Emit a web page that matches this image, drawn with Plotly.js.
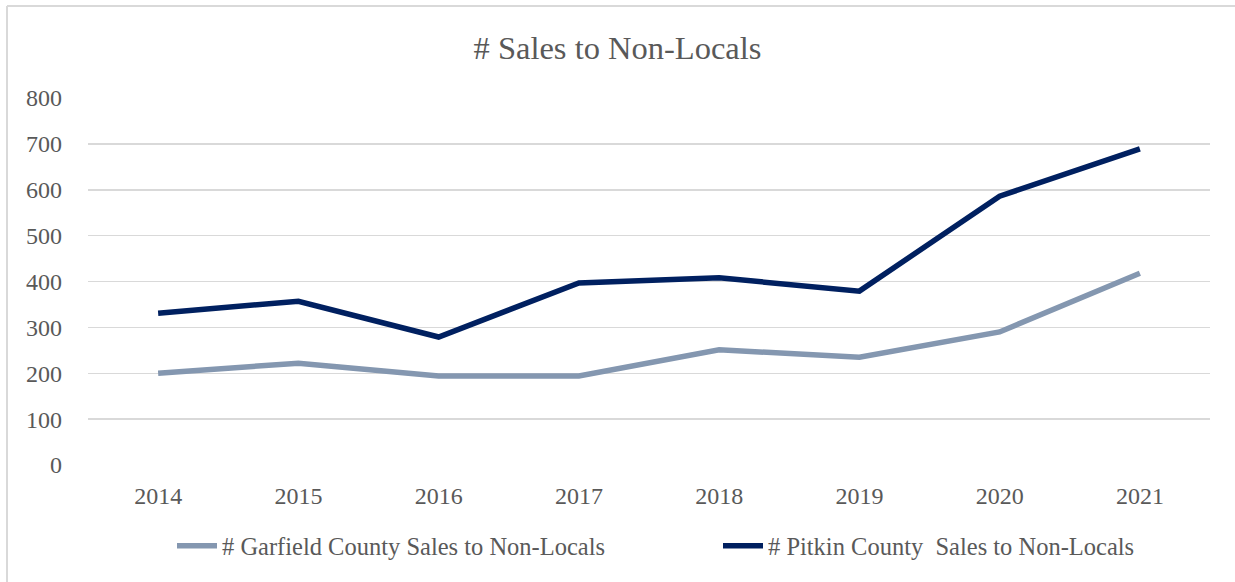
<!DOCTYPE html>
<html>
<head>
<meta charset="utf-8">
<script src="https://cdn.plot.ly/plotly-3.0.1.min.js"></script>
<style>
html,body{margin:0;padding:0;background:#fff;}
#chart{width:1235px;height:582px;}
</style>
</head>
<body>
<div id="chart"></div>
<script>
const years = ["2014","2015","2016","2017","2018","2019","2020","2021"];
const garfield = [200, 222, 194, 194, 251, 235, 290, 418];
const pitkin = [331, 357, 279, 397, 408, 379, 586, 689];
const seriesNames = ["# Garfield County Sales to Non-Locals", "# Pitkin County  Sales to Non-Locals"];
const chartTitle = "# Sales to Non-Locals";
const yTicks = [0,100,200,300,400,500,600,700,800];

const FONT = "Liberation Serif, Times New Roman, serif";
const GREY = "#595959";

const traces = [
  {x: years, y: garfield, type: "scatter", mode: "lines", name: seriesNames[0],
   line: {color: "#8497b0", width: 5.5}, legend: "legend"},
  {x: years, y: pitkin, type: "scatter", mode: "lines", name: seriesNames[1],
   line: {color: "#002060", width: 5.5}, legend: "legend2"}
];

const legendBase = {orientation: "h", xanchor: "left", y: -0.22, yanchor: "middle",
                    font: {size: 24.5, color: GREY}, itemwidth: 40, borderwidth: 0,
                    bgcolor: "rgba(0,0,0,0)"};

const layout = {
  width: 1235, height: 582,
  paper_bgcolor: "#ffffff", plot_bgcolor: "#ffffff",
  margin: {l: 88, r: 25, t: 98, b: 117},
  font: {family: FONT, color: GREY, size: 24},
  title: {text: chartTitle, font: {family: FONT, size: 32.5, color: GREY},
          x: 0.5, xanchor: "center", y: 1 - 48/582, yanchor: "middle"},
  xaxis: {type: "category", range: [-0.5, 7.5], showgrid: false, zeroline: false,
          showline: false, ticks: "", tickfont: {size: 24, color: GREY},
          ticklabelstandoff: 14, fixedrange: true},
  yaxis: {range: [0, 800], tickvals: yTicks, showgrid: true, gridcolor: "#d9d9d9", gridwidth: 1.5,
          zeroline: false, showline: false, ticks: "", ticklen: 0, tickfont: {size: 24, color: GREY},
          ticklabelstandoff: 25, fixedrange: true},
  showlegend: true,
  legend: Object.assign({}, legendBase, {x: (172-88)/1122}),
  legend2: Object.assign({}, legendBase, {x: (718-88)/1122}),
  shapes: [
    {type: "line", xref: "paper", yref: "paper", x0: (7-88)/1122, x1: (1240-88)/1122,
     y0: (465-6)/367, y1: (465-6)/367, line: {color: "#d9d9d9", width: 2}},
    {type: "line", xref: "paper", yref: "paper", x0: (7-88)/1122, x1: (7-88)/1122,
     y0: (465-6)/367, y1: (465-600)/367, line: {color: "#d9d9d9", width: 2}}
  ]
};

Plotly.newPlot("chart", traces, layout, {displayModeBar: false, staticPlot: true});
</script>
</body>
</html>
